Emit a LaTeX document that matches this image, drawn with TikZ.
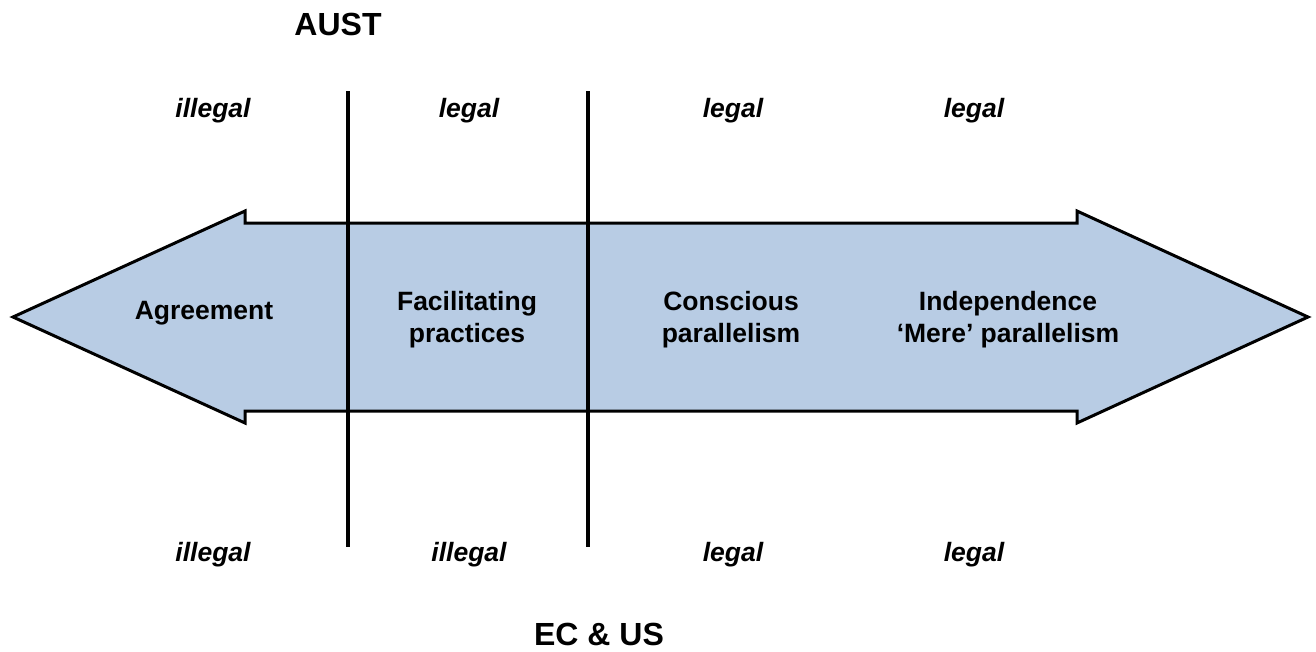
\documentclass[tikz,border=0pt]{standalone}
\usepackage{fontspec}
\setmainfont{Liberation Sans}
\definecolor{arrowfill}{RGB}{184,204,228}
\tikzset{
  lbl/.style={inner sep=0pt, anchor=base, font=\fontsize{26.5}{32}\selectfont\bfseries\itshape},
  ttl/.style={inner sep=0pt, anchor=base, font=\fontsize{32}{38}\selectfont\bfseries},
  inarrow/.style={inner sep=0pt, align=center, font=\fontsize{26.5}{32}\selectfont\bfseries},
  divider/.style={line width=4pt, black},
  bigarrow/.style={draw=black, line width=3pt, fill=arrowfill, line join=miter}
}
\begin{document}
\begin{tikzpicture}[x=1pt,y=-1pt]
\useasboundingbox (0,0) rectangle (1316,651);
% double arrow
\draw[bigarrow] (13,317) -- (245,211) -- (245,223) -- (1077,223) -- (1077,211) -- (1308,317)
  -- (1077,423) -- (1077,411) -- (245,411) -- (245,423) -- cycle;
% dividers
\coordinate (d1t) at (348,91);
\coordinate (d1b) at (348,547);
\coordinate (d2t) at (588,91);
\coordinate (d2b) at (588,547);
\draw[divider] (d1t) -- (d1b);
\draw[divider] (d2t) -- (d2b);
% titles
\node[ttl] (aust) at (338,35) {AUST};
\node[ttl] (ecus) at (599,645) {EC \& US};
% top labels
\node[lbl] (t1) at (213,117) {illegal};
\node[lbl] (t2) at (469,117) {legal};
\node[lbl] (t3) at (733,117) {legal};
\node[lbl] (t4) at (974,117) {legal};
% bottom labels
\node[lbl] (b1) at (213,561) {illegal};
\node[lbl] (b2) at (469,561) {illegal};
\node[lbl] (b3) at (733,561) {legal};
\node[lbl] (b4) at (974,561) {legal};
% arrow texts
\node[inner sep=0pt, anchor=base, font=\fontsize{26.5}{32}\selectfont\bfseries] (agr) at (204,319) {Agreement};
\node[inarrow, anchor=north] (fac) at (467,291.5) {Facilitating\\practices};
\node[inarrow, anchor=north] (con) at (731,291.5) {Conscious\\parallelism};
\node[inarrow, anchor=north] (ind) at (1008,291.5) {Independence\\‘Mere’ parallelism};
\end{tikzpicture}
\end{document}
